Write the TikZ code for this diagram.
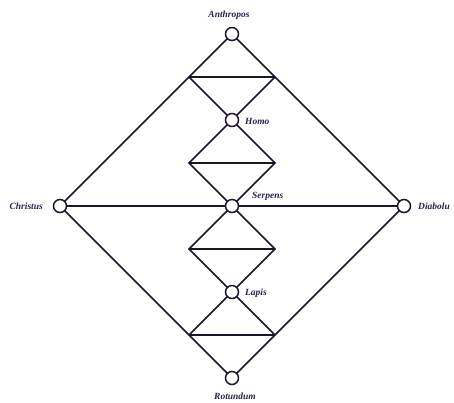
\documentclass[tikz,border=0pt]{standalone}
\usepackage{fontspec}
\setmainfont{Liberation Serif}
\definecolor{ink}{HTML}{1C1428}
\definecolor{labelink}{HTML}{2A2248}
\begin{document}
\begin{tikzpicture}[x=1bp,y=-1bp,
  line/.style={draw=ink,line width=1.5bp},
  station/.style={circle,draw=ink,line width=1.5bp,fill=white,minimum size=13bp,inner sep=0pt},
  lbl/.style={text=labelink,font=\fontsize{9.5}{11}\selectfont\bfseries\itshape,inner sep=0pt}]
\useasboundingbox (0,0) rectangle (454,402);
% half of the spacing between stations
\def\u{43}
% corner points of the inner bands
\coordinate (a1) at (232-\u,34+\u);   \coordinate (a2) at (232+\u,34+\u);
\coordinate (b1) at (232-\u,34+3*\u); \coordinate (b2) at (232+\u,34+3*\u);
\coordinate (c1) at (232-\u,34+5*\u); \coordinate (c2) at (232+\u,34+5*\u);
\coordinate (d1) at (232-\u,34+7*\u); \coordinate (d2) at (232+\u,34+7*\u);
% stations (positions)
\coordinate (pA) at (232,34);
\coordinate (pH) at (232,34+2*\u);
\coordinate (pS) at (232,34+4*\u);
\coordinate (pL) at (232,34+6*\u);
\coordinate (pR) at (232,34+8*\u);
\coordinate (pC) at (232-4*\u,34+4*\u);
\coordinate (pD) at (232+4*\u,34+4*\u);
% outer square
\draw[line] (pA) -- (pC) -- (pR) -- (pD) -- cycle;
% axis through the serpent
\draw[line] (pC) -- (pD);
% horizontal bars
\draw[line] (a1) -- (a2);
\draw[line] (b1) -- (b2);
\draw[line] (c1) -- (c2);
\draw[line] (d1) -- (d2);
% crossing zigzags
\draw[line] (a1) -- (b2) -- (c1) -- (d2);
\draw[line] (a2) -- (b1) -- (c2) -- (d1);
% station circles
\node[station] (anthropos) at (pA) {};
\node[station] (homo) at (pH) {};
\node[station] (serpens) at (pS) {};
\node[station] (lapis) at (pL) {};
\node[station] (rotundum) at (pR) {};
\node[station] (christus) at (pC) {};
\node[station] (diabolus) at (pD) {};
% labels
\node[lbl] (tA) at (229,15) {Anthropos};
\node[lbl,anchor=west] (tH) at (245,121) {Homo};
\node[lbl,anchor=west] (tS) at (252,196) {Serpens};
\node[lbl,anchor=west] (tL) at (245,293) {Lapis};
\node[lbl] (tR) at (235,396) {Rotundum};
\node[lbl,anchor=east] (tC) at (43,206) {Christus};
\node[lbl,anchor=west] (tD) at (418,206) {Diabolu};
\end{tikzpicture}
\end{document}
